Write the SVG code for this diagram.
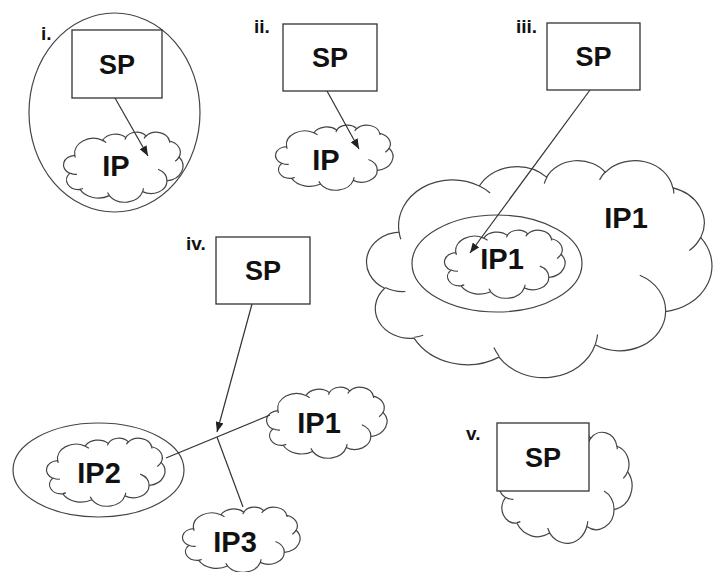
<svg xmlns="http://www.w3.org/2000/svg" xmlns:xlink="http://www.w3.org/1999/xlink" width="713" height="572" viewBox="0 0 713 572">
<style>
.box{fill:#fff;stroke:#333;stroke-width:1.3}
.co{fill:#fff;stroke:#444;stroke-width:1.2}
.ci{fill:none;stroke:#444;stroke-width:1.2}
.ell{fill:#fff;stroke:#444;stroke-width:1.2}
.ln{fill:none;stroke:#333;stroke-width:1.2}
.t{font-family:"Liberation Sans",Arial,sans-serif;font-weight:bold;text-anchor:middle;fill:#111}
.sp{font-size:27px}
.ip{font-size:29px}
.lbl{font-size:19px;text-anchor:start}
</style>
<defs>
<g id="cloud">
<path class="co" vector-effect="non-scaling-stroke" d="M9.03 33.26 A15.63 21.27 0 0 1 32.35 11.99 A12.34 16.82 0 0 1 51.92 7.89 A10.10 13.76 0 0 1 68.99 5.69 A11.24 15.27 0 0 1 88.63 12.85 A12.34 16.84 0 0 1 96.74 35.73 A15.68 21.34 0 0 1 86.52 69.86 A13.39 18.21 0 0 1 66.04 85.16 A15.63 21.33 0 0 1 38.09 90.84 A17.87 24.41 0 0 1 13.38 82.06 A10.09 13.70 0 0 1 4.84 59.10 A10.06 13.76 0 0 1 9.03 33.26 Z"/>
<path class="ci" vector-effect="non-scaling-stroke" d="M10.86 60.59 A10.06 13.76 0 0 1 5.00 58.75 M16.04 80.78 A10.09 13.70 0 0 1 13.47 81.67 M38.14 90.49 A15.63 21.33 0 0 1 36.60 86.46 M66.73 80.44 A15.63 21.33 0 0 1 66.11 84.86 M79.00 53.13 A13.39 18.21 0 0 1 86.53 69.65 M96.75 35.54 A12.34 16.84 0 0 1 93.40 41.74 M88.71 12.56 A11.24 15.27 0 0 1 88.89 15.49 M67.31 9.15 A11.24 15.27 0 0 1 69.03 5.42 M51.25 10.93 A10.10 13.76 0 0 1 52.08 7.71 M32.41 12.02 A15.63 21.27 0 0 1 35.49 15.20 M9.55 36.55 A15.63 21.27 0 0 1 9.03 33.27"/>
</g>
<marker id="ah" markerWidth="10" markerHeight="8" refX="10" refY="4" orient="auto" markerUnits="userSpaceOnUse"><path d="M0,0 L10,4 L0,8 Z" fill="#222"/></marker>
</defs>

<!-- i. -->
<g id="scope-i">
<ellipse class="ell" cx="114.5" cy="112.5" rx="85.5" ry="99.5"/>
<text class="t lbl" x="41" y="40">i.</text>
</g>
<g id="ip-i">
<use xlink:href="#cloud" href="#cloud" transform="translate(64,132) scale(1.19,0.70)"/>
<text class="t ip" x="116" y="176">IP</text>
</g>

<!-- ii. -->
<g id="ip-ii">
<use xlink:href="#cloud" href="#cloud" transform="translate(276,125) scale(1.17,0.65)"/>
<text class="t ip" x="326" y="170">IP</text>
</g>

<!-- iii. -->
<g id="ip1-outer-iii">
<use xlink:href="#cloud" href="#cloud" transform="translate(368,160) scale(3.44,2.17)"/>
<text class="t ip" x="626" y="228">IP1</text>
</g>
<g id="scope-iii">
<ellipse class="ell" cx="497" cy="263.5" rx="85" ry="48.5" style="fill:none"/>
</g>
<g id="ip1-inner-iii">
<use xlink:href="#cloud" href="#cloud" transform="translate(445,230) scale(1.20,0.68)"/>
<text class="t ip" x="502" y="269">IP1</text>
</g>

<!-- iv. -->
<g id="ip1-iv">
<use xlink:href="#cloud" href="#cloud" transform="translate(267,387) scale(1.20,0.71)"/>
<text class="t ip" x="319" y="433">IP1</text>
</g>
<g id="scope-iv">
<ellipse class="ell" cx="98.5" cy="470" rx="85.5" ry="47"/>
</g>
<g id="ip2-iv">
<use xlink:href="#cloud" href="#cloud" transform="translate(47,438) scale(1.18,0.68)"/>
<text class="t ip" x="99" y="483">IP2</text>
</g>
<g id="ip3-iv">
<use xlink:href="#cloud" href="#cloud" transform="translate(183,507) scale(1.17,0.65)"/>
<text class="t ip" x="235" y="552">IP3</text>
</g>

<!-- v. -->
<g id="ip-v">
<use xlink:href="#cloud" href="#cloud" transform="translate(499,432) scale(1.33,1.11)"/>
</g>

<g id="connectors">
<path class="ln" d="M115,98 L148,156" marker-end="url(#ah)"/>
<path class="ln" d="M327,91 L359,149" marker-end="url(#ah)"/>
<path class="ln" d="M590,90 L470,253" marker-end="url(#ah)"/>
<path class="ln" d="M252,304 L217,432" marker-end="url(#ah)"/>
<path class="ln" d="M166,458 L270,415"/>
<path class="ln" d="M217,437 L243,507"/>
</g>

<g id="sp-i">
<rect class="box" x="72" y="30" width="90" height="68"/>
<text class="t sp" x="117" y="74">SP</text>
</g>
<g id="sp-ii">
<text class="t lbl" x="254" y="33">ii.</text>
<rect class="box" x="283" y="24" width="94" height="67"/>
<text class="t sp" x="330" y="67">SP</text>
</g>
<g id="sp-iii">
<text class="t lbl" x="516" y="33">iii.</text>
<rect class="box" x="547" y="23" width="93" height="67"/>
<text class="t sp" x="593.5" y="66">SP</text>
</g>
<g id="sp-iv">
<text class="t lbl" x="186" y="250">iv.</text>
<rect class="box" x="216" y="237" width="94" height="67"/>
<text class="t sp" x="263" y="280">SP</text>
</g>
<g id="sp-v">
<text class="t lbl" x="466" y="440">v.</text>
<rect class="box" x="497" y="423" width="92" height="68"/>
<text class="t sp" x="543" y="467">SP</text>
</g>
</svg>
